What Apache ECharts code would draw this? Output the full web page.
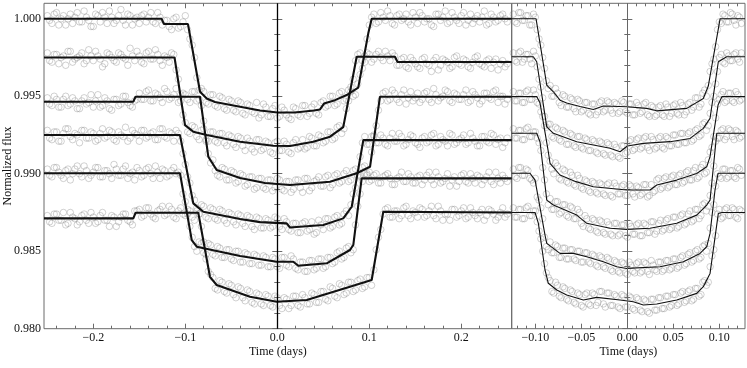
<!DOCTYPE html>
<html>
<head>
<meta charset="utf-8">
<script src="https://cdn.jsdelivr.net/npm/echarts@6/dist/echarts.min.js"></script>
<style>
  html, body { margin: 0; padding: 0; background: #fff; }
  #chart { width: 747px; height: 368px; }
</style>
</head>
<body>
<div id="chart"></div>
<script>
// observation times (days), two interleaved exposure sets per panel
const timeLeft = [
  -0.250, -0.245, -0.240, -0.235, -0.230, -0.225, -0.220, -0.215, -0.210, -0.205,
  -0.200, -0.195, -0.190, -0.185, -0.180, -0.175, -0.170, -0.165, -0.160, -0.155,
  -0.150, -0.145, -0.140, -0.135, -0.130, -0.125, -0.120, -0.115, -0.110, -0.105,
  -0.100, -0.095, -0.090, -0.085, -0.080, -0.075, -0.070, -0.065, -0.060, -0.055,
  -0.050, -0.045, -0.040, -0.035, -0.030, -0.025, -0.020, -0.015, -0.010, -0.005,
  0.000, 0.005, 0.010, 0.015, 0.020, 0.025, 0.030, 0.035, 0.040, 0.045,
  0.050, 0.055, 0.060, 0.065, 0.070, 0.075, 0.080, 0.085, 0.090, 0.095,
  0.100, 0.105, 0.110, 0.115, 0.120, 0.125, 0.130, 0.135, 0.140, 0.145,
  0.150, 0.155, 0.160, 0.165, 0.170, 0.175, 0.180, 0.185, 0.190, 0.195,
  0.200, 0.205, 0.210, 0.215, 0.220, 0.225, 0.230, 0.235, 0.240, 0.245,
  0.250
]
const timeLeft2 = [
  -0.2475, -0.2425, -0.2375, -0.2325, -0.2275, -0.2225, -0.2175, -0.2125, -0.2075, -0.2025,
  -0.1975, -0.1925, -0.1875, -0.1825, -0.1775, -0.1725, -0.1675, -0.1625, -0.1575, -0.1525,
  -0.1475, -0.1425, -0.1375, -0.1325, -0.1275, -0.1225, -0.1175, -0.1125, -0.1075, -0.1025,
  -0.0975, -0.0925, -0.0875, -0.0825, -0.0775, -0.0725, -0.0675, -0.0625, -0.0575, -0.0525,
  -0.0475, -0.0425, -0.0375, -0.0325, -0.0275, -0.0225, -0.0175, -0.0125, -0.0075, -0.0025,
  0.0025, 0.0075, 0.0125, 0.0175, 0.0225, 0.0275, 0.0325, 0.0375, 0.0425, 0.0475,
  0.0525, 0.0575, 0.0625, 0.0675, 0.0725, 0.0775, 0.0825, 0.0875, 0.0925, 0.0975,
  0.1025, 0.1075, 0.1125, 0.1175, 0.1225, 0.1275, 0.1325, 0.1375, 0.1425, 0.1475,
  0.1525, 0.1575, 0.1625, 0.1675, 0.1725, 0.1775, 0.1825, 0.1875, 0.1925, 0.1975,
  0.2025, 0.2075, 0.2125, 0.2175, 0.2225, 0.2275, 0.2325, 0.2375, 0.2425, 0.2475
]
const timeRight = [
  -0.124, -0.120, -0.116, -0.112, -0.108, -0.104, -0.100, -0.096, -0.092, -0.088,
  -0.084, -0.080, -0.076, -0.072, -0.068, -0.064, -0.060, -0.056, -0.052, -0.048,
  -0.044, -0.040, -0.036, -0.032, -0.028, -0.024, -0.020, -0.016, -0.012, -0.008,
  -0.004, 0.000, 0.004, 0.008, 0.012, 0.016, 0.020, 0.024, 0.028, 0.032,
  0.036, 0.040, 0.044, 0.048, 0.052, 0.056, 0.060, 0.064, 0.068, 0.072,
  0.076, 0.080, 0.084, 0.088, 0.092, 0.096, 0.100, 0.104, 0.108, 0.112,
  0.116, 0.120, 0.124
]
const timeRight2 = [
  -0.122, -0.118, -0.114, -0.110, -0.106, -0.102, -0.098, -0.094, -0.090, -0.086,
  -0.082, -0.078, -0.074, -0.070, -0.066, -0.062, -0.058, -0.054, -0.050, -0.046,
  -0.042, -0.038, -0.034, -0.030, -0.026, -0.022, -0.018, -0.014, -0.010, -0.006,
  -0.002, 0.002, 0.006, 0.010, 0.014, 0.018, 0.022, 0.026, 0.030, 0.034,
  0.038, 0.042, 0.046, 0.050, 0.054, 0.058, 0.062, 0.066, 0.070, 0.074,
  0.078, 0.082, 0.086, 0.090, 0.094, 0.098, 0.102, 0.106, 0.110, 0.114,
  0.118, 0.122
]

// measured flux, left panel (individual transits), set 1
const fluxLeftA = [
  1.0002, 0.9997, 1.0004, 1.0000, 0.9996, 1.0003, 1.0001, 0.9998, 1.0005, 0.9999,
  0.9995, 1.0002, 1.0004, 0.9997, 1.0001, 0.9999, 1.0006, 0.9996, 1.0002, 1.0000,
  0.9997, 1.0003, 1.0001, 0.9998, 1.0004, 0.9996, 0.9999, 0.9993, 1.0001, 0.9995,
  1.0002, 0.9987, 0.9975, 0.9954, 0.9953, 0.9945, 0.9951, 0.9943, 0.9949, 0.9941,
  0.9947, 0.9940, 0.9946, 0.9938, 0.9944, 0.9939, 0.9936, 0.9945, 0.9937, 0.9942,
  0.9936, 0.9943, 0.9938, 0.9935, 0.9942, 0.9937, 0.9944, 0.9939, 0.9945, 0.9938,
  0.9947, 0.9944, 0.9950, 0.9945, 0.9953, 0.9948, 0.9956, 0.9951, 0.9964, 0.9976,
  0.9996, 1.0003, 0.9998, 1.0001, 1.0005, 0.9997, 1.0002, 0.9999, 1.0003, 0.9996,
  1.0001, 1.0004, 0.9998, 1.0000, 0.9995, 1.0003, 1.0001, 0.9997, 1.0004, 0.9999,
  1.0002, 0.9996, 1.0003, 1.0000, 0.9998, 1.0005, 0.9997, 1.0001, 0.9999, 1.0003,
  0.9998
]
const fluxLeftB = [
  0.9978, 0.9972, 0.9977, 0.9975, 0.9970, 0.9979, 0.9974, 0.9976, 0.9971, 0.9980,
  0.9973, 0.9976, 0.9969, 0.9978, 0.9975, 0.9972, 0.9977, 0.9974, 0.9981, 0.9973,
  0.9976, 0.9971, 0.9979, 0.9974, 0.9977, 0.9970, 0.9975, 0.9978, 0.9967, 0.9951,
  0.9933, 0.9926, 0.9930, 0.9922, 0.9929, 0.9921, 0.9927, 0.9920, 0.9926, 0.9918,
  0.9924, 0.9917, 0.9923, 0.9915, 0.9921, 0.9914, 0.9922, 0.9916, 0.9920, 0.9913,
  0.9921, 0.9915, 0.9919, 0.9913, 0.9922, 0.9917, 0.9916, 0.9924, 0.9918, 0.9925,
  0.9920, 0.9927, 0.9922, 0.9930, 0.9926, 0.9942, 0.9953, 0.9973, 0.9978, 0.9972,
  0.9977, 0.9974, 0.9979, 0.9973, 0.9976, 0.9978, 0.9970, 0.9974, 0.9969, 0.9975,
  0.9971, 0.9968, 0.9975, 0.9970, 0.9973, 0.9967, 0.9974, 0.9972, 0.9969, 0.9976,
  0.9970, 0.9973, 0.9968, 0.9975, 0.9971, 0.9969, 0.9974, 0.9972, 0.9967, 0.9973,
  0.9971
]
const fluxLeftC = [
  0.9949, 0.9944, 0.9948, 0.9943, 0.9950, 0.9945, 0.9947, 0.9942, 0.9949, 0.9946,
  0.9943, 0.9951, 0.9944, 0.9947, 0.9941, 0.9948, 0.9945, 0.9950, 0.9944, 0.9947,
  0.9952, 0.9948, 0.9954, 0.9947, 0.9951, 0.9946, 0.9953, 0.9949, 0.9955, 0.9947,
  0.9951, 0.9946, 0.9953, 0.9948, 0.9934, 0.9913, 0.9909, 0.9899, 0.9904, 0.9896,
  0.9902, 0.9894, 0.9900, 0.9892, 0.9898, 0.9890, 0.9897, 0.9891, 0.9896, 0.9889,
  0.9897, 0.9890, 0.9895, 0.9888, 0.9896, 0.9891, 0.9897, 0.9889, 0.9895, 0.9898,
  0.9892, 0.9899, 0.9893, 0.9900, 0.9895, 0.9902, 0.9896, 0.9903, 0.9899, 0.9905,
  0.9901, 0.9924, 0.9941, 0.9952, 0.9947, 0.9954, 0.9948, 0.9951, 0.9945, 0.9953,
  0.9949, 0.9946, 0.9952, 0.9948, 0.9955, 0.9947, 0.9950, 0.9953, 0.9946, 0.9951,
  0.9948, 0.9954, 0.9947, 0.9951, 0.9945, 0.9952, 0.9949, 0.9953, 0.9946, 0.9950,
  0.9948
]
const fluxLeftD = [
  0.9928, 0.9922, 0.9927, 0.9921, 0.9929, 0.9924, 0.9926, 0.9920, 0.9928, 0.9923,
  0.9926, 0.9922, 0.9929, 0.9924, 0.9927, 0.9921, 0.9925, 0.9930, 0.9923, 0.9926,
  0.9921, 0.9928, 0.9924, 0.9927, 0.9922, 0.9929, 0.9923, 0.9926, 0.9928, 0.9921,
  0.9906, 0.9894, 0.9883, 0.9874, 0.9879, 0.9871, 0.9877, 0.9870, 0.9876, 0.9868,
  0.9874, 0.9867, 0.9873, 0.9866, 0.9872, 0.9864, 0.9871, 0.9865, 0.9870, 0.9866,
  0.9871, 0.9864, 0.9869, 0.9863, 0.9868, 0.9862, 0.9869, 0.9864, 0.9861, 0.9870,
  0.9864, 0.9871, 0.9866, 0.9873, 0.9868, 0.9876, 0.9880, 0.9891, 0.9911, 0.9924,
  0.9919, 0.9925, 0.9920, 0.9923, 0.9918, 0.9926, 0.9921, 0.9924, 0.9919, 0.9925,
  0.9920, 0.9917, 0.9924, 0.9921, 0.9926, 0.9919, 0.9922, 0.9918, 0.9925, 0.9920,
  0.9923, 0.9919, 0.9926, 0.9921, 0.9918, 0.9924, 0.9920, 0.9925, 0.9922, 0.9917,
  0.9923
]
const fluxLeftE = [
  0.9903, 0.9898, 0.9904, 0.9899, 0.9902, 0.9896, 0.9903, 0.9900, 0.9905, 0.9897,
  0.9901, 0.9904, 0.9898, 0.9902, 0.9897, 0.9903, 0.9899, 0.9905, 0.9900, 0.9896,
  0.9902, 0.9899, 0.9904, 0.9897, 0.9901, 0.9903, 0.9898, 0.9902, 0.9900, 0.9899,
  0.9882, 0.9866, 0.9853, 0.9856, 0.9849, 0.9855, 0.9848, 0.9853, 0.9846, 0.9851,
  0.9845, 0.9850, 0.9843, 0.9849, 0.9842, 0.9848, 0.9841, 0.9847, 0.9840, 0.9846,
  0.9840, 0.9846, 0.9841, 0.9847, 0.9839, 0.9843, 0.9837, 0.9844, 0.9838, 0.9845,
  0.9839, 0.9846, 0.9842, 0.9849, 0.9845, 0.9852, 0.9849, 0.9867, 0.9887, 0.9900,
  0.9895, 0.9899, 0.9894, 0.9898, 0.9900, 0.9893, 0.9897, 0.9901, 0.9895, 0.9898,
  0.9894, 0.9899, 0.9896, 0.9901, 0.9893, 0.9898, 0.9895, 0.9900, 0.9896, 0.9892,
  0.9899, 0.9895, 0.9900, 0.9894, 0.9898, 0.9896, 0.9901, 0.9893, 0.9897, 0.9899,
  0.9895
]
const fluxLeftF = [
  0.9873, 0.9868, 0.9874, 0.9870, 0.9867, 0.9875, 0.9871, 0.9869, 0.9874, 0.9868,
  0.9872, 0.9869, 0.9875, 0.9870, 0.9873, 0.9866, 0.9872, 0.9874, 0.9869, 0.9876,
  0.9877, 0.9873, 0.9878, 0.9872, 0.9876, 0.9879, 0.9874, 0.9877, 0.9871, 0.9878,
  0.9873, 0.9876, 0.9870, 0.9874, 0.9856, 0.9837, 0.9833, 0.9825, 0.9830, 0.9823,
  0.9828, 0.9820, 0.9826, 0.9818, 0.9824, 0.9816, 0.9822, 0.9815, 0.9821, 0.9814,
  0.9820, 0.9813, 0.9819, 0.9815, 0.9821, 0.9814, 0.9820, 0.9816, 0.9822, 0.9817,
  0.9824, 0.9818, 0.9826, 0.9820, 0.9828, 0.9823, 0.9830, 0.9825, 0.9832, 0.9827,
  0.9833, 0.9838, 0.9859, 0.9874, 0.9878, 0.9872, 0.9876, 0.9873, 0.9879, 0.9871,
  0.9875, 0.9878, 0.9872, 0.9876, 0.9873, 0.9879, 0.9870, 0.9874, 0.9877, 0.9872,
  0.9876, 0.9871, 0.9878, 0.9873, 0.9875, 0.9870, 0.9877, 0.9874, 0.9872, 0.9878,
  0.9874
]

// measured flux, left panel, set 2
const fluxLeftA2 = [
  0.9999, 1.0003, 0.9996, 1.0002, 1.0000, 0.9997, 1.0004, 0.9998, 1.0001, 0.9995,
  1.0003, 0.9998, 1.0001, 1.0005, 0.9997, 1.0002, 0.9999, 1.0003, 0.9996, 1.0001,
  1.0002, 0.9998, 1.0004, 0.9997, 1.0001, 0.9999, 0.9995, 1.0000, 0.9994, 0.9998,
  0.9993, 0.9983, 0.9962, 0.9955, 0.9946, 0.9951, 0.9944, 0.9950, 0.9942, 0.9948,
  0.9941, 0.9947, 0.9939, 0.9945, 0.9940, 0.9946, 0.9938, 0.9943, 0.9937, 0.9944,
  0.9937, 0.9941, 0.9936, 0.9943, 0.9938, 0.9944, 0.9937, 0.9943, 0.9939, 0.9946,
  0.9943, 0.9950, 0.9944, 0.9952, 0.9947, 0.9954, 0.9950, 0.9958, 0.9968, 0.9987,
  1.0001, 0.9997, 1.0004, 0.9999, 1.0002, 0.9996, 1.0003, 1.0000, 0.9998, 1.0004,
  0.9997, 1.0002, 1.0000, 0.9996, 1.0003, 0.9999, 1.0005, 0.9998, 1.0001, 0.9997,
  1.0004, 0.9999, 0.9997, 1.0002, 1.0001, 0.9996, 1.0003, 0.9998, 1.0002, 1.0000
]
const fluxLeftB2 = [
  0.9973, 0.9977, 0.9971, 0.9976, 0.9979, 0.9972, 0.9975, 0.9978, 0.9973, 0.9976,
  0.9979, 0.9974, 0.9971, 0.9977, 0.9973, 0.9978, 0.9975, 0.9970, 0.9976, 0.9979,
  0.9972, 0.9978, 0.9974, 0.9980, 0.9973, 0.9976, 0.9972, 0.9977, 0.9961, 0.9938,
  0.9927, 0.9931, 0.9924, 0.9928, 0.9922, 0.9927, 0.9921, 0.9926, 0.9920, 0.9925,
  0.9919, 0.9924, 0.9918, 0.9923, 0.9916, 0.9922, 0.9915, 0.9921, 0.9914, 0.9920,
  0.9915, 0.9921, 0.9914, 0.9920, 0.9916, 0.9922, 0.9917, 0.9923, 0.9918, 0.9924,
  0.9921, 0.9927, 0.9923, 0.9931, 0.9929, 0.9947, 0.9961, 0.9977, 0.9973, 0.9978,
  0.9972, 0.9977, 0.9975, 0.9979, 0.9973, 0.9976, 0.9970, 0.9975, 0.9968, 0.9973,
  0.9969, 0.9974, 0.9971, 0.9966, 0.9975, 0.9970, 0.9973, 0.9968, 0.9975, 0.9971,
  0.9974, 0.9969, 0.9972, 0.9976, 0.9970, 0.9973, 0.9968, 0.9974, 0.9971, 0.9969
]
const fluxLeftC2 = [
  0.9945, 0.9950, 0.9943, 0.9948, 0.9944, 0.9949, 0.9942, 0.9947, 0.9945, 0.9951,
  0.9947, 0.9943, 0.9949, 0.9942, 0.9948, 0.9944, 0.9950, 0.9946, 0.9943, 0.9948,
  0.9948, 0.9953, 0.9947, 0.9952, 0.9949, 0.9955, 0.9948, 0.9951, 0.9946, 0.9952,
  0.9948, 0.9953, 0.9947, 0.9944, 0.9921, 0.9907, 0.9902, 0.9898, 0.9903, 0.9896,
  0.9901, 0.9895, 0.9899, 0.9893, 0.9898, 0.9891, 0.9897, 0.9890, 0.9896, 0.9891,
  0.9896, 0.9889, 0.9895, 0.9890, 0.9896, 0.9888, 0.9897, 0.9891, 0.9896, 0.9892,
  0.9898, 0.9891, 0.9899, 0.9894, 0.9900, 0.9895, 0.9902, 0.9898, 0.9904, 0.9900,
  0.9914, 0.9931, 0.9947, 0.9953, 0.9948, 0.9952, 0.9946, 0.9954, 0.9949, 0.9947,
  0.9952, 0.9948, 0.9953, 0.9946, 0.9951, 0.9949, 0.9954, 0.9947, 0.9952, 0.9948,
  0.9951, 0.9946, 0.9953, 0.9949, 0.9947, 0.9952, 0.9948, 0.9954, 0.9950, 0.9945
]
const fluxLeftD2 = [
  0.9923, 0.9927, 0.9921, 0.9926, 0.9929, 0.9922, 0.9925, 0.9928, 0.9923, 0.9927,
  0.9921, 0.9926, 0.9923, 0.9928, 0.9922, 0.9927, 0.9924, 0.9921, 0.9928, 0.9925,
  0.9928, 0.9923, 0.9926, 0.9922, 0.9929, 0.9924, 0.9927, 0.9921, 0.9926, 0.9913,
  0.9898, 0.9886, 0.9876, 0.9880, 0.9872, 0.9878, 0.9871, 0.9877, 0.9870, 0.9875,
  0.9869, 0.9874, 0.9868, 0.9873, 0.9866, 0.9872, 0.9865, 0.9871, 0.9865, 0.9872,
  0.9866, 0.9871, 0.9864, 0.9868, 0.9862, 0.9868, 0.9863, 0.9869, 0.9862, 0.9867,
  0.9871, 0.9865, 0.9872, 0.9867, 0.9874, 0.9873, 0.9887, 0.9899, 0.9920, 0.9919,
  0.9924, 0.9920, 0.9925, 0.9919, 0.9923, 0.9921, 0.9926, 0.9918, 0.9922, 0.9924,
  0.9919, 0.9923, 0.9920, 0.9925, 0.9918, 0.9924, 0.9921, 0.9926, 0.9919, 0.9922,
  0.9925, 0.9920, 0.9923, 0.9918, 0.9924, 0.9921, 0.9926, 0.9919, 0.9923, 0.9920
]
const fluxLeftE2 = [
  0.9899, 0.9904, 0.9901, 0.9897, 0.9903, 0.9900, 0.9905, 0.9898, 0.9902, 0.9899,
  0.9904, 0.9898, 0.9902, 0.9900, 0.9906, 0.9899, 0.9903, 0.9897, 0.9901, 0.9904,
  0.9898, 0.9903, 0.9900, 0.9905, 0.9897, 0.9902, 0.9899, 0.9904, 0.9901, 0.9887,
  0.9874, 0.9859, 0.9850, 0.9855, 0.9848, 0.9854, 0.9847, 0.9852, 0.9846, 0.9851,
  0.9844, 0.9850, 0.9843, 0.9848, 0.9842, 0.9847, 0.9841, 0.9846, 0.9840, 0.9845,
  0.9839, 0.9846, 0.9840, 0.9845, 0.9838, 0.9843, 0.9837, 0.9844, 0.9839, 0.9845,
  0.9840, 0.9846, 0.9843, 0.9850, 0.9846, 0.9853, 0.9851, 0.9879, 0.9895, 0.9899,
  0.9896, 0.9900, 0.9894, 0.9899, 0.9897, 0.9893, 0.9898, 0.9895, 0.9900, 0.9894,
  0.9898, 0.9893, 0.9899, 0.9896, 0.9901, 0.9894, 0.9897, 0.9892, 0.9898, 0.9895,
  0.9900, 0.9894, 0.9897, 0.9899, 0.9893, 0.9898, 0.9895, 0.9901, 0.9894, 0.9897
]
const fluxLeftF2 = [
  0.9869, 0.9874, 0.9870, 0.9875, 0.9868, 0.9872, 0.9867, 0.9873, 0.9870, 0.9875,
  0.9868, 0.9873, 0.9870, 0.9866, 0.9872, 0.9869, 0.9874, 0.9870, 0.9867, 0.9876,
  0.9872, 0.9878, 0.9874, 0.9871, 0.9877, 0.9873, 0.9879, 0.9872, 0.9876, 0.9874,
  0.9877, 0.9872, 0.9878, 0.9866, 0.9845, 0.9835, 0.9826, 0.9831, 0.9824, 0.9829,
  0.9822, 0.9827, 0.9820, 0.9825, 0.9817, 0.9823, 0.9816, 0.9822, 0.9815, 0.9821,
  0.9815, 0.9820, 0.9813, 0.9821, 0.9815, 0.9822, 0.9816, 0.9823, 0.9817, 0.9824,
  0.9819, 0.9827, 0.9821, 0.9829, 0.9822, 0.9830, 0.9824, 0.9831, 0.9826, 0.9833,
  0.9828, 0.9851, 0.9864, 0.9877, 0.9872, 0.9876, 0.9871, 0.9878, 0.9873, 0.9876,
  0.9872, 0.9877, 0.9873, 0.9879, 0.9871, 0.9876, 0.9874, 0.9870, 0.9877, 0.9873,
  0.9878, 0.9872, 0.9875, 0.9871, 0.9877, 0.9873, 0.9876, 0.9870, 0.9875, 0.9872
]

// measured flux, right panel (folded), set 1
const fluxRightA = [
  1.0003, 0.9997, 1.0004, 0.9999, 1.0002, 0.9996, 1.0001, 0.9987, 0.9975, 0.9960,
  0.9957, 0.9950, 0.9952, 0.9944, 0.9950, 0.9943, 0.9948, 0.9940, 0.9947, 0.9941,
  0.9946, 0.9938, 0.9945, 0.9940, 0.9947, 0.9941, 0.9946, 0.9939, 0.9945, 0.9940,
  0.9946, 0.9939, 0.9945, 0.9938, 0.9944, 0.9940, 0.9946, 0.9937, 0.9943, 0.9938,
  0.9944, 0.9937, 0.9943, 0.9939, 0.9945, 0.9938, 0.9944, 0.9940, 0.9946, 0.9943,
  0.9949, 0.9945, 0.9954, 0.9957, 0.9971, 0.9982, 0.9998, 1.0003, 0.9998, 1.0004,
  0.9999, 1.0002, 0.9997
]
const fluxRightB = [
  0.9978, 0.9972, 0.9979, 0.9974, 0.9977, 0.9971, 0.9976, 0.9961, 0.9949, 0.9930,
  0.9932, 0.9923, 0.9929, 0.9921, 0.9927, 0.9919, 0.9925, 0.9917, 0.9924, 0.9916,
  0.9922, 0.9915, 0.9921, 0.9913, 0.9920, 0.9912, 0.9919, 0.9911, 0.9917, 0.9910,
  0.9918, 0.9914, 0.9922, 0.9916, 0.9923, 0.9917, 0.9924, 0.9915, 0.9922, 0.9917,
  0.9924, 0.9916, 0.9923, 0.9918, 0.9925, 0.9919, 0.9926, 0.9920, 0.9927, 0.9922,
  0.9929, 0.9925, 0.9933, 0.9931, 0.9946, 0.9958, 0.9975, 0.9972, 0.9978, 0.9973,
  0.9977, 0.9974, 0.9978
]
const fluxRightC = [
  0.9953, 0.9947, 0.9952, 0.9946, 0.9954, 0.9948, 0.9951, 0.9945, 0.9937, 0.9920,
  0.9908, 0.9900, 0.9905, 0.9896, 0.9902, 0.9894, 0.9899, 0.9892, 0.9897, 0.9890,
  0.9895, 0.9888, 0.9894, 0.9887, 0.9893, 0.9886, 0.9894, 0.9885, 0.9892, 0.9887,
  0.9893, 0.9886, 0.9892, 0.9885, 0.9891, 0.9887, 0.9893, 0.9886, 0.9888, 0.9896,
  0.9890, 0.9897, 0.9891, 0.9898, 0.9893, 0.9899, 0.9894, 0.9901, 0.9896, 0.9902,
  0.9897, 0.9904, 0.9900, 0.9909, 0.9917, 0.9936, 0.9948, 0.9953, 0.9947, 0.9952,
  0.9946, 0.9951, 0.9948
]
const fluxRightD = [
  0.9929, 0.9923, 0.9928, 0.9922, 0.9930, 0.9924, 0.9927, 0.9920, 0.9904, 0.9887,
  0.9884, 0.9877, 0.9882, 0.9875, 0.9880, 0.9872, 0.9878, 0.9871, 0.9875, 0.9866,
  0.9871, 0.9864, 0.9870, 0.9862, 0.9869, 0.9861, 0.9867, 0.9860, 0.9868, 0.9861,
  0.9867, 0.9859, 0.9866, 0.9861, 0.9868, 0.9860, 0.9867, 0.9862, 0.9869, 0.9863,
  0.9870, 0.9864, 0.9871, 0.9865, 0.9872, 0.9866, 0.9874, 0.9868, 0.9876, 0.9870,
  0.9877, 0.9873, 0.9881, 0.9879, 0.9894, 0.9921, 0.9923, 0.9929, 0.9924, 0.9928,
  0.9922, 0.9927, 0.9924
]
const fluxRightE = [
  0.9903, 0.9897, 0.9904, 0.9899, 0.9902, 0.9896, 0.9897, 0.9883, 0.9871, 0.9853,
  0.9856, 0.9849, 0.9853, 0.9846, 0.9852, 0.9845, 0.9851, 0.9844, 0.9850, 0.9843,
  0.9849, 0.9842, 0.9847, 0.9840, 0.9846, 0.9839, 0.9845, 0.9837, 0.9843, 0.9836,
  0.9842, 0.9835, 0.9841, 0.9836, 0.9843, 0.9837, 0.9842, 0.9835, 0.9841, 0.9837,
  0.9843, 0.9838, 0.9844, 0.9839, 0.9845, 0.9840, 0.9847, 0.9842, 0.9849, 0.9844,
  0.9851, 0.9846, 0.9854, 0.9855, 0.9875, 0.9892, 0.9898, 0.9903, 0.9897, 0.9902,
  0.9898, 0.9904, 0.9899
]
const fluxRightF = [
  0.9878, 0.9872, 0.9877, 0.9871, 0.9879, 0.9873, 0.9876, 0.9863, 0.9850, 0.9836,
  0.9831, 0.9823, 0.9828, 0.9820, 0.9826, 0.9818, 0.9824, 0.9816, 0.9822, 0.9814,
  0.9823, 0.9815, 0.9822, 0.9817, 0.9824, 0.9814, 0.9823, 0.9815, 0.9821, 0.9813,
  0.9821, 0.9814, 0.9820, 0.9812, 0.9819, 0.9811, 0.9818, 0.9810, 0.9819, 0.9812,
  0.9820, 0.9813, 0.9821, 0.9815, 0.9822, 0.9816, 0.9824, 0.9818, 0.9825, 0.9819,
  0.9826, 0.9822, 0.9831, 0.9830, 0.9847, 0.9860, 0.9877, 0.9872, 0.9878, 0.9873,
  0.9877, 0.9871, 0.9876
]

// measured flux, right panel, set 2
const fluxRightA2 = [
  0.9998, 1.0004, 0.9999, 1.0002, 0.9996, 1.0003, 0.9993, 0.9983, 0.9968, 0.9955,
  0.9950, 0.9955, 0.9946, 0.9951, 0.9943, 0.9949, 0.9942, 0.9948, 0.9940, 0.9946,
  0.9939, 0.9945, 0.9938, 0.9946, 0.9940, 0.9947, 0.9941, 0.9946, 0.9939, 0.9947,
  0.9940, 0.9945, 0.9938, 0.9946, 0.9939, 0.9945, 0.9938, 0.9944, 0.9937, 0.9943,
  0.9938, 0.9945, 0.9937, 0.9944, 0.9939, 0.9946, 0.9938, 0.9945, 0.9941, 0.9949,
  0.9943, 0.9952, 0.9950, 0.9966, 0.9974, 0.9993, 0.9997, 1.0002, 0.9998, 1.0003,
  0.9996, 1.0001
]
const fluxRightB2 = [
  0.9973, 0.9978, 0.9972, 0.9977, 0.9974, 0.9979, 0.9969, 0.9956, 0.9937, 0.9932,
  0.9924, 0.9930, 0.9922, 0.9928, 0.9919, 0.9926, 0.9918, 0.9924, 0.9917, 0.9923,
  0.9915, 0.9922, 0.9914, 0.9921, 0.9913, 0.9920, 0.9912, 0.9919, 0.9911, 0.9918,
  0.9913, 0.9921, 0.9915, 0.9922, 0.9916, 0.9923, 0.9917, 0.9924, 0.9916, 0.9923,
  0.9917, 0.9924, 0.9918, 0.9925, 0.9919, 0.9926, 0.9920, 0.9926, 0.9921, 0.9928,
  0.9924, 0.9932, 0.9928, 0.9939, 0.9950, 0.9966, 0.9977, 0.9971, 0.9976, 0.9973,
  0.9978, 0.9972
]
const fluxRightC2 = [
  0.9947, 0.9952, 0.9946, 0.9953, 0.9948, 0.9954, 0.9946, 0.9940, 0.9931, 0.9912,
  0.9903, 0.9907, 0.9897, 0.9903, 0.9895, 0.9901, 0.9893, 0.9899, 0.9891, 0.9896,
  0.9889, 0.9895, 0.9888, 0.9894, 0.9887, 0.9893, 0.9886, 0.9894, 0.9887, 0.9892,
  0.9886, 0.9893, 0.9887, 0.9892, 0.9886, 0.9893, 0.9885, 0.9893, 0.9889, 0.9897,
  0.9891, 0.9898, 0.9892, 0.9899, 0.9893, 0.9900, 0.9895, 0.9902, 0.9896, 0.9904,
  0.9898, 0.9906, 0.9901, 0.9914, 0.9924, 0.9945, 0.9951, 0.9946, 0.9952, 0.9947,
  0.9953, 0.9947
]
const fluxRightD2 = [
  0.9923, 0.9928, 0.9922, 0.9929, 0.9924, 0.9927, 0.9923, 0.9915, 0.9896, 0.9880,
  0.9877, 0.9882, 0.9874, 0.9880, 0.9873, 0.9879, 0.9871, 0.9877, 0.9868, 0.9873,
  0.9865, 0.9871, 0.9863, 0.9870, 0.9862, 0.9869, 0.9861, 0.9868, 0.9860, 0.9867,
  0.9860, 0.9868, 0.9861, 0.9867, 0.9860, 0.9868, 0.9862, 0.9869, 0.9861, 0.9868,
  0.9863, 0.9870, 0.9864, 0.9872, 0.9865, 0.9873, 0.9867, 0.9874, 0.9869, 0.9877,
  0.9871, 0.9880, 0.9876, 0.9886, 0.9905, 0.9923, 0.9928, 0.9922, 0.9929, 0.9924,
  0.9928, 0.9923
]
const fluxRightE2 = [
  0.9898, 0.9904, 0.9899, 0.9903, 0.9897, 0.9894, 0.9885, 0.9878, 0.9859, 0.9851,
  0.9849, 0.9854, 0.9846, 0.9852, 0.9845, 0.9851, 0.9845, 0.9850, 0.9843, 0.9849,
  0.9843, 0.9848, 0.9841, 0.9847, 0.9840, 0.9846, 0.9838, 0.9844, 0.9837, 0.9843,
  0.9836, 0.9843, 0.9837, 0.9842, 0.9836, 0.9843, 0.9837, 0.9844, 0.9838, 0.9843,
  0.9837, 0.9844, 0.9838, 0.9845, 0.9839, 0.9846, 0.9841, 0.9848, 0.9843, 0.9850,
  0.9845, 0.9853, 0.9850, 0.9865, 0.9880, 0.9900, 0.9897, 0.9903, 0.9898, 0.9902,
  0.9897, 0.9903
]
const fluxRightF2 = [
  0.9872, 0.9877, 0.9871, 0.9878, 0.9873, 0.9876, 0.9869, 0.9858, 0.9842, 0.9833,
  0.9824, 0.9830, 0.9821, 0.9827, 0.9819, 0.9825, 0.9817, 0.9823, 0.9815, 0.9822,
  0.9816, 0.9823, 0.9815, 0.9824, 0.9816, 0.9823, 0.9815, 0.9822, 0.9814, 0.9822,
  0.9814, 0.9821, 0.9813, 0.9820, 0.9812, 0.9819, 0.9811, 0.9819, 0.9812, 0.9820,
  0.9813, 0.9821, 0.9814, 0.9822, 0.9815, 0.9823, 0.9817, 0.9824, 0.9818, 0.9826,
  0.9821, 0.9830, 0.9828, 0.9840, 0.9851, 0.9874, 0.9871, 0.9877, 0.9873, 0.9878,
  0.9872, 0.9877
]

// model curves [time, flux]
const modelLeftA = [[-0.2536, 1.0000], [-0.1257, 1.0000], [-0.1232, 0.99966], [-0.0971, 0.99966], [-0.0840, 0.99529], [-0.0767, 0.99486], [-0.0677, 0.99463], [-0.0405, 0.99432], [-0.0188, 0.99408], [0, 0.99395], [0.0192, 0.99395], [0.0399, 0.99408], [0.0464, 0.99415], [0.0508, 0.99453], [0.0627, 0.99475], [0.0754, 0.99508], [0.0880, 0.99556], [0.0989, 0.99906], [0.1026, 1.0000], [0.2548, 1.0000]]
const modelLeftB = [[-0.2536, 0.9975], [-0.1117, 0.9975], [-0.1003, 0.99314], [-0.0913, 0.99271], [-0.0767, 0.99250], [-0.0405, 0.99206], [-0.0043, 0.99181], [0.0138, 0.99179], [0.0391, 0.99206], [0.0573, 0.99239], [0.0717, 0.99301], [0.0863, 0.99755], [0.1279, 0.99755], [0.1307, 0.99721], [0.2548, 0.99721]]
const modelLeftC = [[-0.2536, 0.99465], [-0.1565, 0.99465], [-0.1541, 0.99497], [-0.0840, 0.99497], [-0.0750, 0.99110], [-0.0659, 0.99024], [-0.0405, 0.98972], [-0.0134, 0.98940], [0.0138, 0.98927], [0.0573, 0.98948], [0.0863, 0.99003], [0.1008, 0.99045], [0.1116, 0.99497], [0.2548, 0.99497]]
const modelLeftD = [[-0.2536, 0.99250], [-0.1058, 0.99250], [-0.0913, 0.98809], [-0.0804, 0.98755], [-0.0405, 0.98708], [-0.0188, 0.98688], [0.0102, 0.98680], [0.0138, 0.98653], [0.0500, 0.98669], [0.0717, 0.98712], [0.0809, 0.98787], [0.0935, 0.99217], [0.2548, 0.99217]]
const modelLeftE = [[-0.2536, 0.99003], [-0.1058, 0.99003], [-0.0930, 0.98572], [-0.0876, 0.98529], [-0.0405, 0.98469], [-0.0007, 0.98432], [0.0174, 0.98432], [0.0228, 0.98406], [0.0537, 0.98422], [0.0790, 0.98508], [0.0826, 0.98540], [0.0917, 0.98970], [0.2548, 0.98970]]
const modelLeftF = [[-0.2536, 0.98712], [-0.1565, 0.98712], [-0.1541, 0.98748], [-0.0859, 0.98748], [-0.0732, 0.98335], [-0.0659, 0.98282], [-0.0297, 0.98206], [-0.0007, 0.98174], [0.0320, 0.98185], [0.0790, 0.98271], [0.1026, 0.98314], [0.1152, 0.98755], [0.2548, 0.98750]]

const modelRightA = [[-0.1257, 1.0000], [-0.0992, 1.0000], [-0.0876, 0.99572], [-0.0804, 0.99529], [-0.0732, 0.99475], [-0.0659, 0.99456], [-0.0514, 0.99434], [-0.0370, 0.99415], [-0.0261, 0.99437], [-0.0007, 0.99432], [0.0211, 0.99422], [0.0320, 0.99406], [0.0646, 0.99422], [0.0826, 0.99486], [0.0880, 0.99566], [0.1008, 1.0000], [0.1279, 1.0000]]
const modelRightB = [[-0.1257, 0.99755], [-0.1022, 0.99755], [-0.0985, 0.99723], [-0.0876, 0.99303], [-0.0804, 0.99261], [-0.0550, 0.99207], [-0.0188, 0.99164], [-0.0079, 0.99142], [0, 0.99179], [0.0174, 0.99196], [0.0464, 0.99207], [0.0682, 0.99228], [0.0826, 0.99293], [0.0899, 0.99357], [0.0989, 0.99723], [0.1080, 0.99755], [0.1279, 0.99755]]
const modelRightC = [[-0.1257, 0.99498], [-0.0985, 0.99498], [-0.0949, 0.99456], [-0.0862, 0.99153], [-0.0840, 0.99067], [-0.0732, 0.98992], [-0.0558, 0.98949], [-0.0370, 0.98916], [-0.0007, 0.98895], [0.0247, 0.98895], [0.0320, 0.98927], [0.0537, 0.98959], [0.0754, 0.99002], [0.0863, 0.99045], [0.0899, 0.99110], [0.0986, 0.99443], [0.1029, 0.99498], [0.1279, 0.99498]]
const modelRightD = [[-0.1257, 0.99261], [-0.0985, 0.99261], [-0.0949, 0.99205], [-0.0876, 0.98830], [-0.0804, 0.98798], [-0.0550, 0.98733], [-0.0441, 0.98680], [-0.0188, 0.98648], [-0.0007, 0.98641], [0.0247, 0.98648], [0.0537, 0.98680], [0.0754, 0.98733], [0.0863, 0.98798], [0.0899, 0.98830], [0.0972, 0.99261], [0.1279, 0.99261]]
const modelRightE = [[-0.1257, 0.99003], [-0.1058, 0.99003], [-0.1003, 0.98959], [-0.0895, 0.98604], [-0.0876, 0.98551], [-0.0732, 0.98486], [-0.0587, 0.98486], [-0.0441, 0.98464], [-0.0261, 0.98432], [-0.0115, 0.98400], [-0.0007, 0.98389], [0.0355, 0.98400], [0.0609, 0.98432], [0.0790, 0.98486], [0.0863, 0.98529], [0.0899, 0.98615], [0.0953, 0.98895], [0.0986, 0.99003], [0.1279, 0.99003]]
const modelRightF = [[-0.1257, 0.98750], [-0.1003, 0.98750], [-0.0967, 0.98680], [-0.0895, 0.98379], [-0.0859, 0.98293], [-0.0767, 0.98250], [-0.0659, 0.98218], [-0.0478, 0.98185], [-0.0333, 0.98202], [-0.0079, 0.98185], [0.0065, 0.98174], [0.0174, 0.98153], [0.0320, 0.98159], [0.0537, 0.98185], [0.0754, 0.98228], [0.0826, 0.98271], [0.0899, 0.98357], [0.0989, 0.98744], [0.1029, 0.98750], [0.1279, 0.98750]]

// ticks
const xMajorLeft = [-0.2, -0.1, 0, 0.1, 0.2]
const xMinorLeft = [-0.24, -0.22, -0.18, -0.16, -0.14, -0.12, -0.08, -0.06, -0.04, -0.02, 0.02, 0.04, 0.06, 0.08, 0.12, 0.14, 0.16, 0.18, 0.22, 0.24]
const xMajorRight = [-0.1, -0.05, 0, 0.05, 0.1]
const xMinorRight = [-0.12, -0.11, -0.09, -0.08, -0.07, -0.06, -0.04, -0.03, -0.02, -0.01, 0.01, 0.02, 0.03, 0.04, 0.06, 0.07, 0.08, 0.09, 0.11, 0.12]
const yMajor = [0.98, 0.985, 0.99, 0.995, 1.0]
const yMinor = [0.981, 0.982, 0.983, 0.984, 0.986, 0.987, 0.988, 0.989, 0.991, 0.992, 0.993, 0.994, 0.996, 0.997, 0.998, 0.999]

const xRangeLeft = [-0.2536, 0.2548]
const xRangeRight = [-0.1257, 0.1279]
const yRange = [0.98, 1.001]

const font = '"Liberation Serif", "Times New Roman", serif'
const frameColor = '#6b6b6b'

function fmtX(digits) {
  return v => (v < -1e-9 ? '\u2212' : '') + Math.abs(v).toFixed(digits)
}

function frameAxis(grid, position, range, values, len, labelFmt) {
  return {
    type: 'value',
    gridIndex: grid,
    position: position,
    min: range[0],
    max: range[1],
    axisLine: { show: false },
    splitLine: { show: false },
    axisTick: {
      show: true,
      inside: true,
      length: len,
      customValues: values,
      lineStyle: { color: frameColor, width: 1 }
    },
    axisLabel: labelFmt ? {
      show: true,
      customValues: values,
      formatter: labelFmt,
      margin: 3,
      fontFamily: font,
      fontSize: 12,
      color: '#111'
    } : { show: false }
  }
}

const xAxes = [
  frameAxis(0, 'bottom', xRangeLeft, xMajorLeft, 5, fmtX(1)),
  frameAxis(0, 'bottom', xRangeLeft, xMinorLeft, 3, null),
  frameAxis(0, 'top', xRangeLeft, xMajorLeft, 5, null),
  frameAxis(0, 'top', xRangeLeft, xMinorLeft, 3, null),
  frameAxis(1, 'bottom', xRangeRight, xMajorRight, 5, fmtX(2)),
  frameAxis(1, 'bottom', xRangeRight, xMinorRight, 3, null),
  frameAxis(1, 'top', xRangeRight, xMajorRight, 5, null),
  frameAxis(1, 'top', xRangeRight, xMinorRight, 3, null)
]
const timeName = {
  name: 'Time (days)', nameLocation: 'middle', nameGap: 17, nameMoveOverlap: false,
  nameTextStyle: { fontFamily: font, fontSize: 12, color: '#111' }
}
Object.assign(xAxes[0], timeName)
Object.assign(xAxes[4], timeName)

const yAxes = [
  frameAxis(0, 'left', yRange, yMajor, 5, v => v.toFixed(3)),
  frameAxis(0, 'left', yRange, yMinor, 3, null),
  frameAxis(0, 'right', yRange, yMajor, 5, null),
  frameAxis(0, 'right', yRange, yMinor, 3, null),
  frameAxis(1, 'left', yRange, yMajor, 5, null),
  frameAxis(1, 'left', yRange, yMinor, 3, null),
  frameAxis(1, 'right', yRange, yMajor, 5, null),
  frameAxis(1, 'right', yRange, yMinor, 3, null)
]
Object.assign(yAxes[0], {
  name: 'Normalized flux', nameLocation: 'middle', nameGap: 30, nameMoveOverlap: false,
  nameTextStyle: { fontFamily: font, fontSize: 12, color: '#111' }
})

function points(times, flux, panel) {
  return {
    type: 'scatter',
    xAxisIndex: panel === 0 ? 0 : 4,
    yAxisIndex: panel === 0 ? 0 : 4,
    data: times.map((t, i) => [t, flux[i]]),
    symbol: 'circle',
    symbolSize: 6.5,
    itemStyle: { color: 'transparent', borderColor: 'rgba(110,110,110,0.5)', borderWidth: 0.8 },
    z: 2,
    silent: true
  }
}

function model(data, panel) {
  return {
    type: 'line',
    xAxisIndex: panel === 0 ? 0 : 4,
    yAxisIndex: panel === 0 ? 0 : 4,
    data: data,
    showSymbol: false,
    symbol: 'none',
    lineStyle: { color: '#111', width: panel === 0 ? 2.1 : 1.1 },
    z: 4,
    silent: true
  }
}

const zeroLeft = model(modelLeftA, 0)
zeroLeft.markLine = {
  silent: true, symbol: 'none', label: { show: false },
  lineStyle: { color: '#000', width: 1.3, type: 'solid' },
  data: [{ xAxis: 0 }]
}
const zeroRight = model(modelRightA, 1)
zeroRight.markLine = {
  silent: true, symbol: 'none', label: { show: false },
  lineStyle: { color: '#666', width: 1, type: 'solid' },
  data: [{ xAxis: 0 }]
}

const chart = echarts.init(document.getElementById('chart'))
chart.setOption({
  animation: false,
  backgroundColor: '#fff',
  grid: [
    { left: 44, top: 3.3, width: 467.7, height: 325.4, show: true, borderColor: frameColor, borderWidth: 1, outerBoundsMode: 'none' },
    { left: 511.7, top: 3.3, width: 233.3, height: 325.4, show: true, borderColor: frameColor, borderWidth: 1, outerBoundsMode: 'none' }
  ],
  xAxis: xAxes,
  yAxis: yAxes,
  series: [
    points(timeLeft, fluxLeftA, 0), points(timeLeft2, fluxLeftA2, 0),
    points(timeLeft, fluxLeftB, 0), points(timeLeft2, fluxLeftB2, 0),
    points(timeLeft, fluxLeftC, 0), points(timeLeft2, fluxLeftC2, 0),
    points(timeLeft, fluxLeftD, 0), points(timeLeft2, fluxLeftD2, 0),
    points(timeLeft, fluxLeftE, 0), points(timeLeft2, fluxLeftE2, 0),
    points(timeLeft, fluxLeftF, 0), points(timeLeft2, fluxLeftF2, 0),
    points(timeRight, fluxRightA, 1), points(timeRight2, fluxRightA2, 1),
    points(timeRight, fluxRightB, 1), points(timeRight2, fluxRightB2, 1),
    points(timeRight, fluxRightC, 1), points(timeRight2, fluxRightC2, 1),
    points(timeRight, fluxRightD, 1), points(timeRight2, fluxRightD2, 1),
    points(timeRight, fluxRightE, 1), points(timeRight2, fluxRightE2, 1),
    points(timeRight, fluxRightF, 1), points(timeRight2, fluxRightF2, 1),
    zeroLeft,
    model(modelLeftB, 0),
    model(modelLeftC, 0),
    model(modelLeftD, 0),
    model(modelLeftE, 0),
    model(modelLeftF, 0),
    zeroRight,
    model(modelRightB, 1),
    model(modelRightC, 1),
    model(modelRightD, 1),
    model(modelRightE, 1),
    model(modelRightF, 1)
  ]
})
</script>
</body>
</html>
